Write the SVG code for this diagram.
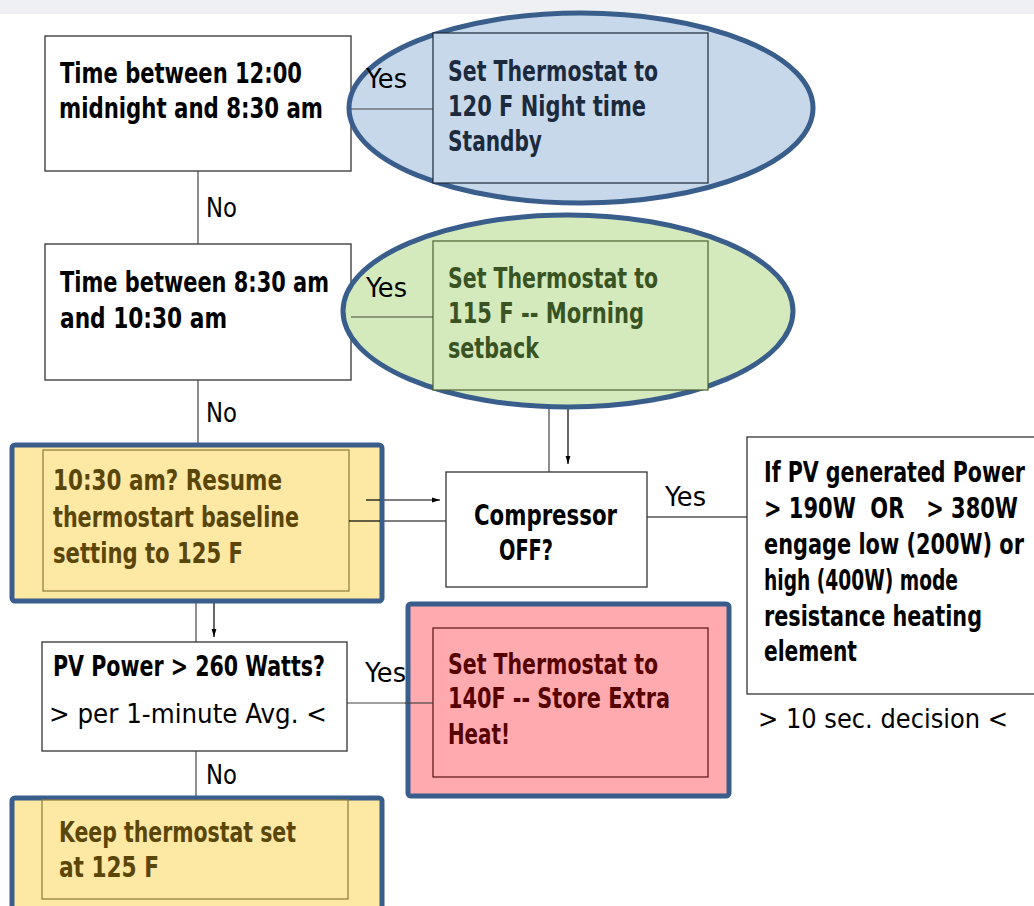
<svg xmlns="http://www.w3.org/2000/svg" width="1034" height="906" viewBox="0 0 1034 906">
<defs>
<style>
.b{font-family:'DejaVu Sans Condensed','DejaVu Sans','Liberation Sans',sans-serif;font-weight:bold;font-size:28px;font-stretch:condensed}
.r{font-family:'DejaVu Sans','Liberation Sans',sans-serif;font-stretch:condensed;font-size:26px;fill:#000}
.box{fill:#fff;stroke:#333;stroke-width:1.3}
.ln{stroke:#444;stroke-width:1.2;fill:none}
.ol{stroke:#3a5e8c;stroke-width:5}
</style>
<marker id="ah" viewBox="0 0 10 10" refX="10" refY="5" markerWidth="12" markerHeight="8" orient="auto" markerUnits="userSpaceOnUse">
<path d="M0,2 L10,5 L0,8 Z" fill="#000"/>
</marker>
</defs>
<rect x="0" y="0" width="1034" height="906" fill="#fff"/>
<rect x="0" y="0" width="1034" height="14" fill="#eef0f3"/>

<g id="connectors">
<line class="ln" x1="198" y1="171" x2="198" y2="244"/>
<line class="ln" x1="198" y1="380" x2="198" y2="450"/>
<line class="ln" x1="549" y1="390" x2="549" y2="472"/>
<line stroke="#000" stroke-width="1.2" x1="568" y1="403" x2="568" y2="464" marker-end="url(#ah)"/>
<line stroke="#000" stroke-width="1.2" x1="366" y1="500" x2="440" y2="500" marker-end="url(#ah)"/>
<line stroke="#000" stroke-width="1.2" x1="349" y1="521" x2="446" y2="521"/>
<line stroke="#000" stroke-width="1.2" x1="647" y1="517" x2="747" y2="517"/>
<line class="ln" x1="196" y1="591" x2="196" y2="642"/>
<line stroke="#000" stroke-width="1.2" x1="214" y1="600" x2="214" y2="637" marker-end="url(#ah)"/>
<line class="ln" x1="347" y1="703" x2="433" y2="703"/>
<line class="ln" x1="196" y1="751" x2="196" y2="797"/>
<text class="r" x="206" y="217" textLength="31" lengthAdjust="spacingAndGlyphs">No</text>
<text class="r" x="206" y="422" textLength="31" lengthAdjust="spacingAndGlyphs">No</text>
<text class="r" x="206" y="784" textLength="31" lengthAdjust="spacingAndGlyphs">No</text>
<text class="r" x="665" y="506" textLength="41" lengthAdjust="spacingAndGlyphs">Yes</text>
<text class="r" x="365" y="682" textLength="41" lengthAdjust="spacingAndGlyphs">Yes</text>
</g>

<g id="n1">
<rect class="box" x="45" y="36" width="306" height="135"/>
<text class="b" x="60" y="83" fill="#000" textLength="242" lengthAdjust="spacingAndGlyphs">Time between 12:00</text>
<text class="b" x="59" y="118" fill="#000" textLength="264" lengthAdjust="spacingAndGlyphs">midnight and 8:30 am</text>
</g>

<g id="n2">
<ellipse class="ol" cx="581" cy="108" rx="232" ry="95" fill="#c8d8eb"/>
<rect x="433" y="33" width="275" height="150" fill="#c8d8eb" stroke="#1c2a3a" stroke-width="1.2"/>
<line class="ln" x1="351" y1="109" x2="433" y2="109"/>
<text class="r" x="366" y="88" textLength="41" lengthAdjust="spacingAndGlyphs">Yes</text>
<text class="b" x="448" y="81" fill="#1c2a3e" textLength="210" lengthAdjust="spacingAndGlyphs">Set Thermostat to</text>
<text class="b" x="448" y="116" fill="#1c2a3e" textLength="198" lengthAdjust="spacingAndGlyphs">120 F Night time</text>
<text class="b" x="448" y="151" fill="#1c2a3e" textLength="94" lengthAdjust="spacingAndGlyphs">Standby</text>
</g>

<g id="n3">
<rect class="box" x="45" y="244" width="306" height="136"/>
<text class="b" x="60" y="292" fill="#000" textLength="269" lengthAdjust="spacingAndGlyphs">Time between 8:30 am</text>
<text class="b" x="60" y="328" fill="#000" textLength="167" lengthAdjust="spacingAndGlyphs">and 10:30 am</text>
</g>

<g id="n4">
<ellipse class="ol" cx="568" cy="311" rx="225" ry="96" fill="#d4eabd"/>
<rect x="433" y="241" width="275" height="149" fill="#d4eabd" stroke="#4a6030" stroke-width="1.2"/>
<line class="ln" x1="351" y1="317" x2="433" y2="317"/>
<text class="r" x="366" y="297" textLength="41" lengthAdjust="spacingAndGlyphs">Yes</text>
<text class="b" x="448" y="288" fill="#3a5322" textLength="210" lengthAdjust="spacingAndGlyphs">Set Thermostat to</text>
<text class="b" x="448" y="323" fill="#3a5322" textLength="196" lengthAdjust="spacingAndGlyphs">115 F -- Morning</text>
<text class="b" x="448" y="358" fill="#3a5322" textLength="91" lengthAdjust="spacingAndGlyphs">setback</text>
</g>

<g id="n5">
<rect class="ol" x="12" y="445" width="370" height="156" rx="3" fill="#fde8a4"/>
<rect x="43" y="450" width="306" height="141" fill="#fde8a4" stroke="#8a7a3a" stroke-width="1.2"/>
<line stroke="#000" stroke-width="1.2" x1="366" y1="500" x2="380" y2="500"/>
<line stroke="#000" stroke-width="1.2" x1="349" y1="521" x2="380" y2="521"/>
<text class="b" x="53" y="490" fill="#5a4608" textLength="229" lengthAdjust="spacingAndGlyphs">10:30 am? Resume</text>
<text class="b" x="53" y="527" fill="#5a4608" textLength="246" lengthAdjust="spacingAndGlyphs">thermostart baseline</text>
<text class="b" x="53" y="563" fill="#5a4608" textLength="190" lengthAdjust="spacingAndGlyphs">setting to 125 F</text>
</g>

<g id="n6">
<rect class="box" x="446" y="472" width="201" height="115"/>
<text class="b" x="474" y="525" fill="#000" textLength="143" lengthAdjust="spacingAndGlyphs">Compressor</text>
<text class="b" x="499" y="560" fill="#000" textLength="54" lengthAdjust="spacingAndGlyphs">OFF?</text>
</g>

<g id="n7">
<rect class="box" x="747" y="437" width="300" height="257"/>
<text class="b" x="764" y="482" fill="#000" textLength="261" lengthAdjust="spacingAndGlyphs">If PV generated Power</text>
<text class="b" x="764" y="518" fill="#000" textLength="254" lengthAdjust="spacingAndGlyphs" xml:space="preserve">&gt; 190W  OR   &gt; 380W</text>
<text class="b" x="764" y="554" fill="#000" textLength="260" lengthAdjust="spacingAndGlyphs">engage low (200W) or</text>
<text class="b" x="764" y="590" fill="#000" textLength="194" lengthAdjust="spacingAndGlyphs">high (400W) mode</text>
<text class="b" x="764" y="626" fill="#000" textLength="218" lengthAdjust="spacingAndGlyphs">resistance heating</text>
<text class="b" x="764" y="661" fill="#000" textLength="93" lengthAdjust="spacingAndGlyphs">element</text>
<text class="r" x="758" y="728" textLength="250" lengthAdjust="spacingAndGlyphs">&gt; 10 sec. decision &lt;</text>
</g>

<g id="n8">
<rect class="box" x="42" y="642" width="305" height="109"/>
<text class="b" x="53" y="676" fill="#000" textLength="272" lengthAdjust="spacingAndGlyphs">PV Power &gt; 260 Watts?</text>
<text class="r" x="49" y="723" textLength="278" lengthAdjust="spacingAndGlyphs">&gt; per 1-minute Avg. &lt;</text>
</g>

<g id="n9">
<rect class="ol" x="408" y="604" width="321" height="192" rx="3" fill="#ffaaae"/>
<rect x="433" y="628" width="275" height="149" fill="#ffaaae" stroke="#5a1010" stroke-width="1.2"/>
<line class="ln" x1="405" y1="703" x2="433" y2="703"/>
<text class="b" x="448" y="674" fill="#560000" textLength="210" lengthAdjust="spacingAndGlyphs">Set Thermostat to</text>
<text class="b" x="448" y="708" fill="#560000" textLength="222" lengthAdjust="spacingAndGlyphs">140F -- Store Extra</text>
<text class="b" x="448" y="744" fill="#560000" textLength="62" lengthAdjust="spacingAndGlyphs">Heat!</text>
</g>

<g id="n10">
<rect class="ol" x="12" y="798" width="370" height="120" rx="3" fill="#fde8a4"/>
<rect x="42" y="800" width="306" height="99" fill="#fde8a4" stroke="#8a7a3a" stroke-width="1.2"/>
<text class="b" x="59" y="842" fill="#5a4608" textLength="237" lengthAdjust="spacingAndGlyphs">Keep thermostat set</text>
<text class="b" x="59" y="877" fill="#5a4608" textLength="100" lengthAdjust="spacingAndGlyphs">at 125 F</text>
</g>
</svg>
